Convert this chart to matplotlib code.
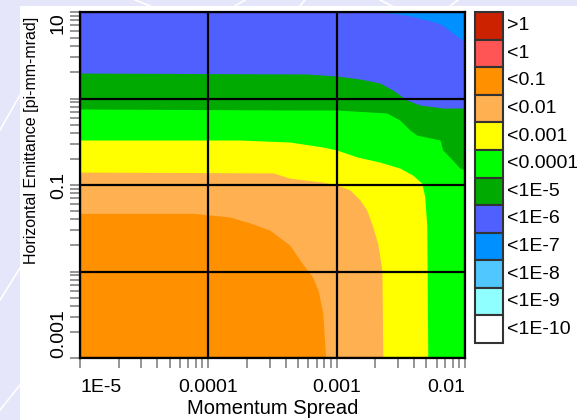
import matplotlib
matplotlib.use("Agg")
import matplotlib.pyplot as plt
from matplotlib.patches import Rectangle
from matplotlib.lines import Line2D
from matplotlib.ticker import LogLocator, NullFormatter

plt.rcParams['font.family'] = ['Liberation Sans', 'DejaVu Sans']

# Legend classes and their fill colours
level_labels = [">1", "<1", "<0.1", "<0.01", "<0.001", "<0.0001",
                "<1E-5", "<1E-6", "<1E-7", "<1E-8", "<1E-9", "<1E-10"]
level_colors = ["#CC2200", "#FF5555", "#FF9000", "#FFB050", "#FFFF00", "#00FF00",
                "#00AA00", "#5060FF", "#0090FF", "#50C8FF", "#90FFFF", "#FFFFFF"]

# Axis ranges and tick labels
x_range = [1e-5, 1e-2]
y_range = [1e-3, 10]
x_ticks = [1e-5, 1e-4, 1e-3, 1e-2]
x_tick_labels = ["1E-5", "0.0001", "0.001", "0.01"]
y_ticks = [1e-3, 1e-2, 1e-1, 1, 10]
y_tick_labels = ["0.001", "", "0.1", "", "10"]

# Class of the region below / left of every contour
base_class = "<0.1"

# Contour lines (momentum spread, emittance); the region above/right of each
# line belongs to the class given with it
c_1e2_x = [1e-5, 7.6e-5, 1.03e-4, 1.47e-4, 2.11e-4, 3.02e-4, 4.3e-4, 5.5e-4, 6.5e-4, 7.15e-4, 7.8e-4, 8.2e-4]
c_1e2_y = [0.047, 0.047, 0.045, 0.0427, 0.0364, 0.030, 0.0202, 0.0119, 0.0086, 0.0061, 0.0033, 0.001]

c_1e3_x = [1e-5, 3.2e-4, 4.3e-4, 7.8e-4, 1.0e-3, 1.27e-3, 1.52e-3, 1.72e-3, 1.91e-3, 2.09e-3, 2.25e-3, 2.29e-3]
c_1e3_y = [0.141, 0.138, 0.120, 0.108, 0.100, 0.0875, 0.067, 0.051, 0.033, 0.021, 0.0104, 0.001]

c_1e4_x = [1e-5, 1.76e-4, 4.3e-4, 7.8e-4, 1.0e-3, 1.44e-3, 2.17e-3, 3.1e-3, 3.92e-3, 4.6e-3, 4.86e-3, 5.04e-3, 5.13e-3]
c_1e4_y = [0.331, 0.331, 0.314, 0.275, 0.254, 0.211, 0.184, 0.157, 0.130, 0.105, 0.073, 0.033, 0.001]

c_1e5_x = [1e-5, 5.2e-4, 1.0e-3, 2.46e-3, 3.1e-3, 3.72e-3, 4.2e-3, 6.4e-3, 6.7e-3, 8.0e-3, 9.1e-3, 1e-2]
c_1e5_y = [0.756, 0.736, 0.736, 0.68, 0.564, 0.432, 0.378, 0.331, 0.254, 0.194, 0.157, 0.149]

c_1e6_x = [1e-5, 5.86e-4, 1e-3, 1.52e-3, 2.17e-3, 2.74e-3, 3.1e-3, 3.52e-3, 4.45e-3, 6.7e-3, 1e-2]
c_1e6_y = [1.97, 1.92, 1.82, 1.68, 1.51, 1.25, 1.10, 0.96, 0.84, 0.777, 0.777]

c_1e7_x = [1.72e-3, 2.6e-3, 3.52e-3, 5.04e-3, 6.4e-3, 7.2e-3, 8.0e-3, 9.1e-3, 1e-2]
c_1e7_y = [10, 9.73, 9.2, 8.1, 7.3, 6.5, 5.7, 5.0, 4.5]

contours = [
    (c_1e2_x, c_1e2_y, "<0.01"),
    (c_1e3_x, c_1e3_y, "<0.001"),
    (c_1e4_x, c_1e4_y, "<0.0001"),
    (c_1e5_x, c_1e5_y, "<1E-5"),
    (c_1e6_x, c_1e6_y, "<1E-6"),
    (c_1e7_x, c_1e7_y, "<1E-7"),
]

color_of = dict(zip(level_labels, level_colors))

W, H = 577, 420
fig = plt.figure(figsize=(W / 100, H / 100), dpi=100)
fig.patch.set_facecolor("#E6E6FA")

# white page with a lavender margin on the left and top
fig.add_artist(Rectangle((20 / W, 0), 1 - 20 / W, 1 - 6 / H, transform=fig.transFigure,
                         facecolor="white", edgecolor="none", zorder=0))
# faint web lines in the margin
for (x0, y0, x1, y1) in [(0, 130, 20, 95), (0, 300, 20, 268), (0, 410, 20, 385),
                         (135, 0, 150, 6), (235, 6, 245, 0), (300, 6, 305, 0),
                         (380, 0, 392, 6), (450, 6, 458, 0)]:
    fig.add_artist(Line2D([x0 / W, x1 / W], [1 - y0 / H, 1 - y1 / H], transform=fig.transFigure,
                          color="white", lw=1.2, zorder=0.5))

ax = fig.add_axes([80 / W, 1 - 358 / H, 385 / W, 346 / H])
ax.set_xscale("log")
ax.set_yscale("log")
ax.set_xlim(*x_range)
ax.set_ylim(*y_range)

# base class fills the whole plane, each contour paints the region beyond it
ax.fill_between(x_range, [y_range[0]] * 2, [y_range[1]] * 2,
                color=color_of[base_class], lw=0, zorder=1)
for cx, cy, cls in contours:
    xs, ys = list(cx), list(cy)
    if ys[-1] <= y_range[0] and xs[-1] < x_range[1]:
        xs.append(x_range[1])
        ys.append(y_range[0])
    ax.fill_between(xs, ys, y_range[1], color=color_of[cls], lw=0, zorder=1)

# ticks
ax.set_xticks(x_ticks)
ax.set_xticklabels(x_tick_labels)
ax.set_yticks(y_ticks)
ax.set_yticklabels(y_tick_labels)
ax.xaxis.set_minor_locator(LogLocator(base=10, subs=range(2, 10), numticks=20))
ax.yaxis.set_minor_locator(LogLocator(base=10, subs=range(2, 10), numticks=20))
ax.xaxis.set_minor_formatter(NullFormatter())
ax.yaxis.set_minor_formatter(NullFormatter())
ax.tick_params(which="both", direction="out", length=7, width=1.3, color="#8C8C8C",
               labelsize=14)
ax.tick_params(axis="x", which="both", pad=8)
ax.tick_params(axis="y", which="both", pad=2.5)

ax.set_axisbelow(False)
ax.grid(True, which="major", color="black", lw=1.6)
for s in ax.spines.values():
    s.set_color("black")
    s.set_linewidth(1.6)
    s.set_zorder(3)

ax.set_xlabel("Momentum Spread", fontsize=14.5, labelpad=2)
ax.set_ylabel("Horizontal Emittance [pi-mm-mrad]", fontsize=11.5, loc="top")
ax.yaxis.set_label_coords((39 - 80) / 385, (358 - 17) / 346)

# legend boxes
lax = fig.add_axes([475 / W, 1 - 343 / H, 28 / W, 331 / H])
lax.set_xlim(0, 1)
lax.set_ylim(0, len(level_labels))
lax.axis("off")
n = len(level_labels)
for i, (lab, col) in enumerate(zip(level_labels, level_colors)):
    y0 = n - 1 - i
    lax.add_patch(Rectangle((0, y0), 1, 1, facecolor=col, edgecolor="#333333",
                            lw=1.5, clip_on=False))
    lax.text(1.15, y0 + 0.5, lab, fontsize=14, va="center", ha="left", clip_on=False)

# tick label alignment at the ends of the axes
xl = ax.get_xticklabels()
xl[0].set_ha("left")
xl[-1].set_ha("right")
for lbl in ax.get_yticklabels():
    lbl.set_rotation(90)
    t = lbl.get_text()
    if t == "10":
        lbl.set_va("top")
    elif t == "0.001":
        lbl.set_va("bottom")
    else:
        lbl.set_va("center")

fig.savefig("out.png", dpi=100, facecolor=fig.get_facecolor())
